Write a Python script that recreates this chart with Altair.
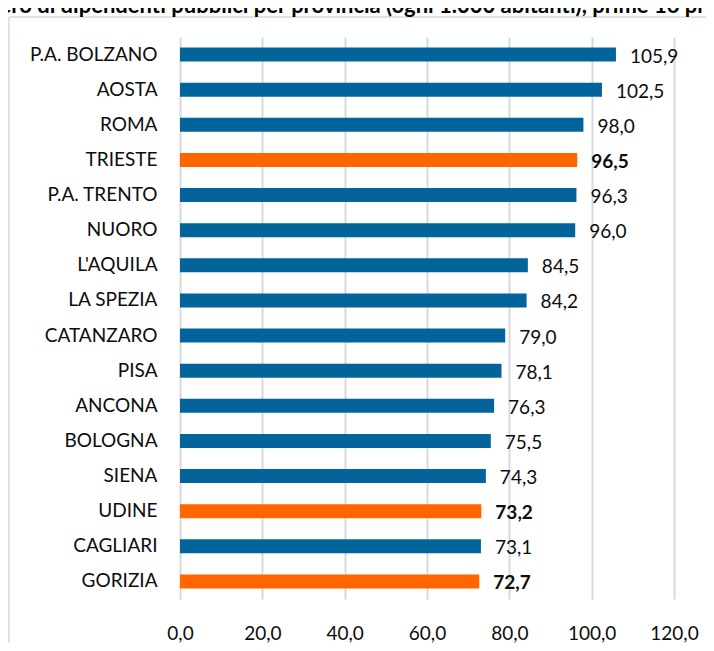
import altair as alt
import pandas as pd

provinces = ["P.A. BOLZANO", "AOSTA", "ROMA", "TRIESTE", "P.A. TRENTO", "NUORO",
             "L'AQUILA", "LA SPEZIA", "CATANZARO", "PISA", "ANCONA", "BOLOGNA",
             "SIENA", "UDINE", "CAGLIARI", "GORIZIA"]
values = [105.9, 102.5, 98.0, 96.5, 96.3, 96.0, 84.5, 84.2, 79.0, 78.1, 76.3, 75.5,
          74.3, 73.2, 73.1, 72.7]
highlighted = ["TRIESTE", "UDINE", "GORIZIA"]
x_ticks = [0, 20, 40, 60, 80, 100, 120]
title_text = "Numero di dipendenti pubblici per provincia (ogni 1.000 abitanti), prime 16 province"

df = pd.DataFrame({"provincia": provinces, "valore": values})
df["gruppo"] = ["evidenziata" if p in highlighted else "altra" for p in provinces]
df["etichetta"] = [f"{v:.1f}".replace(".", ",") for v in values]

W, H = 494, 562
FONT = "Lato"
BLUE = "#02649B"
ORANGE = "#FF6600"

base = alt.Chart(df)

y_enc = alt.Y("provincia:N", sort=provinces,
              scale=alt.Scale(paddingInner=0.6, paddingOuter=0.3),
              axis=alt.Axis(title=None, ticks=False, domain=False, labelFont=FONT,
                            labelFontSize=19, labelColor="#0d0d0d", labelPadding=23,
                            grid=False))
x_enc = alt.X("valore:Q", scale=alt.Scale(domain=[0, 120], nice=False),
              axis=alt.Axis(title=None, values=x_ticks, ticks=False, domain=False,
                            labelFont=FONT, labelFontSize=19, labelColor="#0d0d0d",
                            labelPadding=25, labelFlush=False,
                            gridColor="#D9D9D9", gridWidth=2,
                            labelExpr="replace(format(datum.value, '.1f'), '.', ',')"))

bars = base.mark_bar().encode(
    x=x_enc,
    y=y_enc,
    color=alt.Color("gruppo:N", scale=alt.Scale(domain=["altra", "evidenziata"],
                                                 range=[BLUE, ORANGE]), legend=None),
)

labels_normal = base.transform_filter(alt.datum.gruppo == "altra").mark_text(
    align="left", baseline="middle", dx=14, dy=2, font=FONT, fontSize=19, color="#0d0d0d"
).encode(x="valore:Q", y=alt.Y("provincia:N", sort=provinces), text="etichetta:N")

labels_bold = base.transform_filter(alt.datum.gruppo == "evidenziata").mark_text(
    align="left", baseline="middle", dx=14, dy=2, font=FONT, fontSize=19,
    fontWeight="bold", color="#0d0d0d"
).encode(x="valore:Q", y=alt.Y("provincia:N", sort=provinces), text="etichetta:N")

one = alt.Data(values=[{"k": 1}])
frame_h = alt.Chart(one).mark_rule(color="#D9D9D9", strokeWidth=1.5).encode(
    x=alt.value(-171), x2=alt.value(W + 60), y=alt.value(-20))
frame_v = alt.Chart(one).mark_rule(color="#D9D9D9", strokeWidth=1.5).encode(
    x=alt.value(-171), y=alt.value(-20), y2=alt.value(H + 60))
title = alt.Chart(one).mark_text(
    align="left", baseline="alphabetic", font=FONT, fontSize=22, fontWeight="bold",
    color="#000000"
).encode(x=alt.value(-228), y=alt.value(-24), text=alt.value(title_text))

chart = alt.layer(frame_h, frame_v, bars, labels_normal, labels_bold, title).properties(
    width=W, height=H,
    autosize=alt.AutoSizeParams(type="none"),
    padding={"left": 172, "top": 29, "right": 32, "bottom": 44},
).configure_view(strokeWidth=0)

chart.save("out.html", embed_options={"renderer": "svg", "actions": False})
